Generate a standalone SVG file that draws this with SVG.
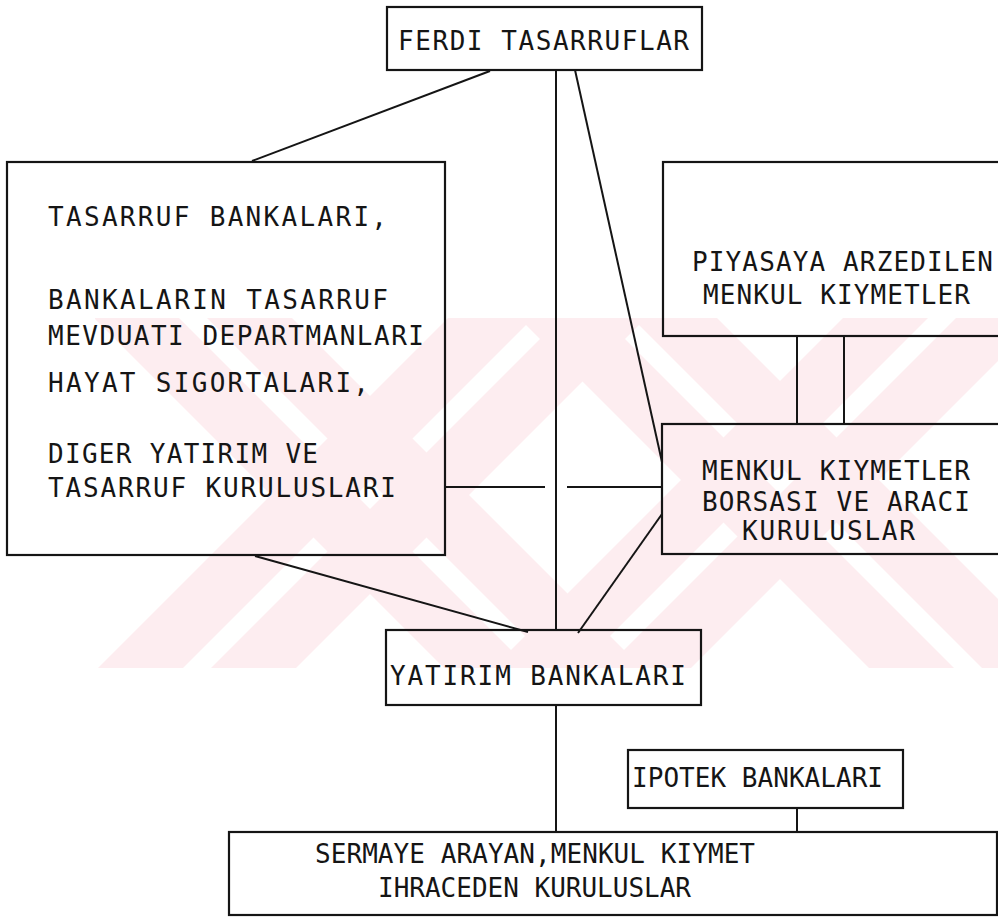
<svg xmlns="http://www.w3.org/2000/svg" width="998" height="920" viewBox="0 0 998 920">
<style>
.box{fill:none;stroke:#151515;stroke-width:2.2}
.ln{fill:none;stroke:#151515;stroke-width:2}
.t{font-family:"DejaVu Sans Mono","Liberation Mono",monospace;font-size:26px;fill:#151515}
.wm{fill:#fdedf0}
</style>
<defs>
<clipPath id="wmclip"><rect x="95" y="318" width="903" height="350"/></clipPath>
</defs>
<rect x="0" y="0" width="998" height="920" fill="#ffffff"/>
<g id="watermark" clip-path="url(#wmclip)">
<polygon class="wm" points="579,300 664,300 264,700 179,700"/>
<polygon class="wm" points="466,300 551,300 151,700 66,700"/>
<polygon class="wm" points="189,300 274,300 674,700 589,700"/>
<polygon class="wm" points="76,300 161,300 561,700 476,700"/>
<polygon class="wm" points="974,300 1059,300 659,700 574,700"/>
<polygon class="wm" points="861,300 946,300 546,700 461,700"/>
<polygon class="wm" points="614,300 699,300 1099,700 1014,700"/>
<polygon class="wm" points="501,300 586,300 986,700 901,700"/>
</g>
<g id="connectors">
<line class="ln" x1="490" y1="71" x2="252" y2="161"/>
<line class="ln" x1="556" y1="70" x2="556" y2="630"/>
<line class="ln" x1="575" y1="70" x2="662" y2="462"/>
<line class="ln" x1="445" y1="487" x2="545" y2="487"/>
<line class="ln" x1="567" y1="487" x2="662" y2="487"/>
<line class="ln" x1="255" y1="556" x2="528" y2="632"/>
<line class="ln" x1="662" y1="514" x2="578" y2="633"/>
<line class="ln" x1="797" y1="336" x2="797" y2="424"/>
<line class="ln" x1="844" y1="336" x2="844" y2="424"/>
<line class="ln" x1="556" y1="705" x2="556" y2="832"/>
<line class="ln" x1="797" y1="808" x2="797" y2="832"/>
</g>
<g id="ferdi">
<rect class="box" x="387" y="7" width="315" height="63"/>
<text class="t" x="398" y="50" textLength="291" lengthAdjust="spacing">FERDI TASARRUFLAR</text>
</g>
<g id="tasarruf-kuruluslari">
<rect class="box" x="7" y="162" width="438" height="393"/>
<text class="t" x="48" y="226" textLength="339" lengthAdjust="spacing">TASARRUF BANKALARI,</text>
<text class="t" x="48" y="309" textLength="340" lengthAdjust="spacing">BANKALARIN TASARRUF</text>
<text class="t" x="48" y="345" textLength="376" lengthAdjust="spacing">MEVDUATI DEPARTMANLARI</text>
<text class="t" x="48" y="392" textLength="321" lengthAdjust="spacing">HAYAT SIGORTALARI,</text>
<text class="t" x="48" y="463" textLength="270" lengthAdjust="spacing">DIGER YATIRIM VE</text>
<text class="t" x="48" y="497" textLength="348" lengthAdjust="spacing">TASARRUF KURULUSLARI</text>
</g>
<g id="piyasaya">
<rect class="box" x="663" y="162" width="345" height="174"/>
<text class="t" x="692" y="271" textLength="301" lengthAdjust="spacing">PIYASAYA ARZEDILEN</text>
<text class="t" x="703" y="304" textLength="267" lengthAdjust="spacing">MENKUL KIYMETLER</text>
</g>
<g id="borsa">
<rect class="box" x="662" y="424" width="346" height="130"/>
<text class="t" x="702" y="480" textLength="268" lengthAdjust="spacing">MENKUL KIYMETLER</text>
<text class="t" x="702" y="511" textLength="268" lengthAdjust="spacing">BORSASI VE ARACI</text>
<text class="t" x="742" y="540" textLength="173" lengthAdjust="spacing">KURULUSLAR</text>
</g>
<g id="yatirim">
<rect class="box" x="386" y="630" width="315" height="75"/>
<text class="t" x="390" y="685" textLength="296" lengthAdjust="spacing">YATIRIM BANKALARI</text>
</g>
<g id="ipotek">
<rect class="box" x="628" y="750" width="275" height="58"/>
<text class="t" x="632" y="787" textLength="251" lengthAdjust="spacing">IPOTEK BANKALARI</text>
</g>
<g id="sermaye">
<rect class="box" x="229" y="832" width="768" height="83"/>
<text class="t" x="315" y="863" textLength="440" lengthAdjust="spacing">SERMAYE ARAYAN,MENKUL KIYMET</text>
<text class="t" x="378" y="897" textLength="313" lengthAdjust="spacing">IHRACEDEN KURULUSLAR</text>
</g>
</svg>
